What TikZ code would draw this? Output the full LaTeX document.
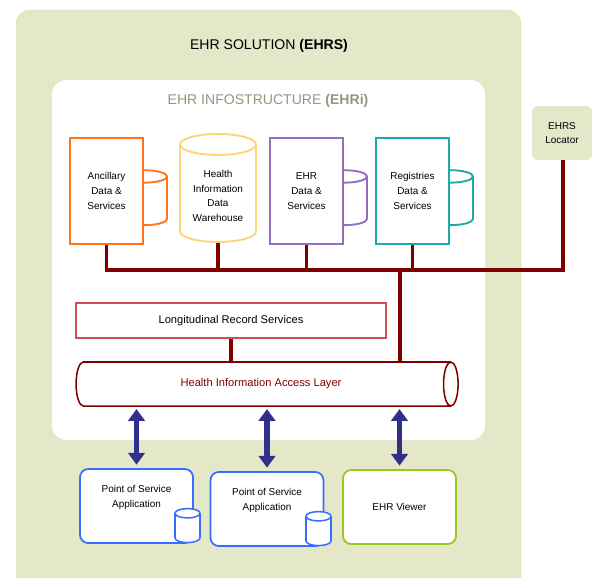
\documentclass[tikz,border=0pt]{standalone}
\usepackage{fontspec}
\setmainfont{Liberation Sans}
\usetikzlibrary{arrows.meta,positioning,shapes.geometric}
\definecolor{olivebg}{RGB}{228,231,200}
\definecolor{oliveline}{RGB}{222,230,165}
\definecolor{busred}{RGB}{128,0,0}
\definecolor{ancorange}{RGB}{255,118,26}
\definecolor{dwhorange}{RGB}{255,212,120}
\definecolor{ehrpurple}{RGB}{150,110,190}
\definecolor{regteal}{RGB}{30,170,170}
\definecolor{lrsred}{RGB}{205,80,80}
\definecolor{posblue}{RGB}{55,110,255}
\definecolor{viewgreen}{RGB}{150,200,30}
\definecolor{navyarrow}{RGB}{48,48,140}
\definecolor{infogray}{RGB}{150,150,128}
\tikzset{
  boxfont/.style={font=\fontsize{8.5}{12.6}\selectfont},
  store/.style={rectangle, draw, line width=1.6pt, fill=white, minimum width=2.19cm,
                minimum height=3.18cm, align=center, boxfont},
  sidedb/.style={cylinder, shape border rotate=90, aspect=1.6, draw, line width=1.6pt,
                 fill=white, minimum width=1.38cm, minimum height=1.65cm},
  app/.style={rectangle, rounded corners=7pt, draw=posblue, line width=1.5pt, fill=white,
              minimum width=3.39cm, minimum height=2.22cm, align=center, boxfont},
  appdb/.style={cylinder, shape border rotate=90, aspect=1.2, draw=posblue, line width=1.3pt,
                fill=white, minimum width=0.75cm, minimum height=1.02cm},
  bus/.style={line width=2.6pt, busred},
  dblarrow/.style={{Triangle[width=14pt,length=10pt]}-{Triangle[width=14pt,length=10pt]},
                   line width=4.5pt, navyarrow, shorten <=2pt, shorten >=3pt},
}
\begin{document}
\begin{tikzpicture}[x=0.03cm, y=-0.03cm]
\useasboundingbox (0,0) rectangle (597,577);
% frames
\draw[fill=olivebg, draw=oliveline, rounded corners=12pt] (16,10) rectangle (521,600);
\node[font=\fontsize{12}{14}\selectfont] (solution) at (269,46) {EHR SOLUTION \textbf{(EHRS)}};
\fill[white, rounded corners=12pt] (52,80) rectangle (485,440);
\node[font=\fontsize{12}{14}\selectfont, text=infogray] (infra) at (268,101)
  {EHR INFOSTRUCTURE \textbf{(EHRi)}};
% data stores
\node[sidedb, draw=ancorange] (ancdb) at (144,203) {};
\node[store, draw=ancorange] (anc) at (106.5,191) {Ancillary\\Data \&\\Services};
\node[cylinder, shape border rotate=90, aspect=0.36, draw=dwhorange, line width=1.6pt,
      minimum width=2.28cm, minimum height=3.24cm, align=center, boxfont]
      (dwh) at (218,196) {Health\\Information\\Data\\Warehouse};
\node[sidedb, draw=ehrpurple] (ehrdb) at (344,203) {};
\node[store, draw=ehrpurple] (ehr) at (306.5,191) {EHR\\Data \&\\Services};
\node[sidedb, draw=regteal] (regdb) at (450,203) {};
\node[store, draw=regteal] (reg) at (412.5,191) {Registries\\Data \&\\Services};
% locator
\node[rectangle, rounded corners=5pt, fill=olivebg, minimum width=1.8cm, minimum height=1.62cm,
      align=center, boxfont] (loc) at (562,133) {EHRS\\Locator};
% services
\node[rectangle, draw=lrsred, line width=1.3pt, fill=white, minimum width=9.3cm,
      minimum height=1.05cm, font=\fontsize{9.5}{11}\selectfont] (lrs) at (231,320.5)
      {Longitudinal Record Services};
\node[cylinder, shape border rotate=0, aspect=0.8, draw=busred, line width=1.3pt, fill=white,
      minimum width=1.32cm, minimum height=11.46cm, text=busred,
      font=\fontsize{9.5}{11}\selectfont] (hial) at (261,384) {Health Information Access Layer};
% applications
\node[app] (pos1) at (136.5,506) {Point of Service\\Application\\[4pt]};
\node[appdb] (pos1db) at (187.5,530) {};
\node[app] (pos2) at (267,509) {Point of Service\\Application\\[4pt]};
\node[appdb] (pos2db) at (318.5,533) {};
\node[app, draw=viewgreen] (view) at (399.5,507) {EHR Viewer};
% bus
\coordinate (busr) at (563,270);
\coordinate (tap) at (400,270);
\draw[bus] (anc.south) -- (anc.south |- busr) -- (busr) -- (busr |- loc.south);
\foreach \n in {dwh,ehr,reg}
  \draw[bus] (\n.south) -- (\n.south |- busr);
\draw[bus] (tap) -- (tap |- hial.north);
\draw[bus] (lrs.south) -- (lrs.south |- hial.north);
% access
\foreach \n in {pos1,pos2,view}
  \draw[dblarrow] (\n.north |- hial.south) -- (\n.north);
\end{tikzpicture}
\end{document}
